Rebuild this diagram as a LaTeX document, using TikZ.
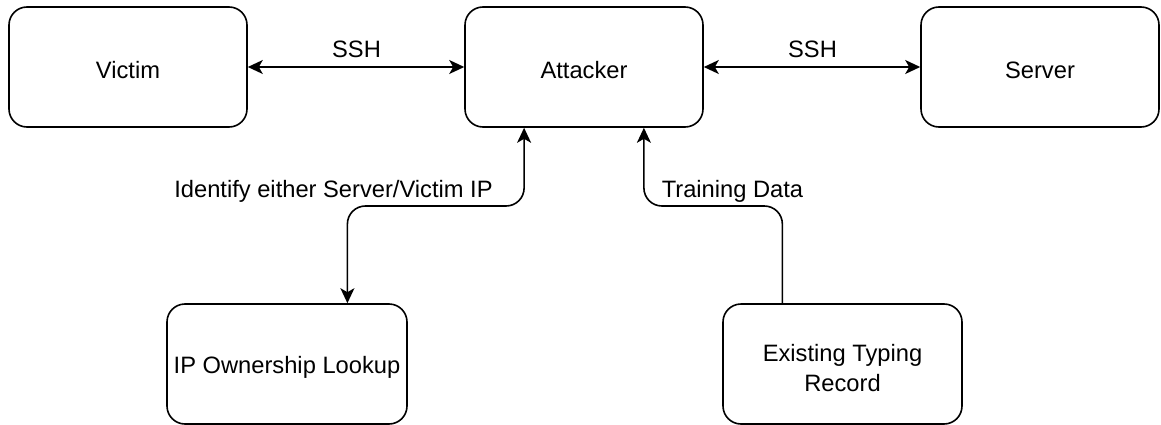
\documentclass[tikz,border=0pt]{standalone}
\usepackage{fontspec}
\setmainfont{Liberation Sans}
\usetikzlibrary{arrows.meta,calc}
% box captions sit slightly below the box centre (the box keeps its natural size)
\newcommand{\boxtext}[2][3pt]{\raisebox{-#1}[\height][\depth]{#2}}
\begin{document}
\begin{tikzpicture}[x=1pt,y=-1pt,
  txt/.style={font=\fontsize{23.7}{30}\selectfont},
  box/.style={txt, draw, line width=1.6pt, rounded corners=18pt,
    minimum width=238pt, minimum height=120pt, inner sep=0pt},
  link/.style={line width=1.6pt, rounded corners=18pt},
  lbl/.style={txt, inner sep=0pt, anchor=base}]
\useasboundingbox (0,0) rectangle (1161,425);

% hosts
\node[box] (victim)   at (128,67)  {\boxtext{Victim}};
\node[box] (attacker) at (584,67)  {\boxtext{Attacker}};
\node[box] (server)   at (1040,67) {\boxtext{Server}};
% data sources
\node[box, minimum width=240pt] (lookup) at (287,364) {\boxtext{IP Ownership Lookup}};
\node[box, minimum width=239pt] (record) at (842.5,364)
  {\boxtext[6.5pt]{\begin{tabular}{@{}c@{}}Existing Typing\\Record\end{tabular}}};

% SSH sessions
\draw[link, {Stealth[length=15pt,width=14pt,inset=4pt]}-{Stealth[length=15pt,width=14pt,inset=4pt]}]
  (victim.east) -- (attacker.west);
\draw[link, {Stealth[length=15pt,width=14pt,inset=4pt]}-{Stealth[length=15pt,width=14pt,inset=4pt]}]
  (attacker.east) -- (server.west);
\node[lbl] (ssh1) at (356.5,58) {SSH};
\node[lbl] (ssh2) at (812.5,58) {SSH};

% ports on the box edges
\coordinate (atkL) at ($(attacker.south west)!0.25!(attacker.south east)$);
\coordinate (atkR) at ($(attacker.south west)!0.75!(attacker.south east)$);
\coordinate (lkTop) at ($(lookup.north west)!0.75!(lookup.north east)$);
\coordinate (recTop) at ($(record.north west)!0.25!(record.north east)$);
\coordinate (bend) at (0,206);

% lookup link
\draw[link, {Stealth[length=15pt,width=14pt,inset=4pt]}-{Stealth[length=15pt,width=14pt,inset=4pt]}]
  (lkTop) -- (lkTop |- bend) -- (atkL |- bend) -- (atkL);
\node[lbl] (idlbl) at (333.5,197) {Identify either Server/Victim IP};

% training data link
\draw[link, -{Stealth[length=15pt,width=14pt,inset=4pt]}]
  (recTop) -- (recTop |- bend) -- (atkR |- bend) -- (atkR);
\node[lbl] (trlbl) at (732.5,197) {Training Data};
\end{tikzpicture}
\end{document}
